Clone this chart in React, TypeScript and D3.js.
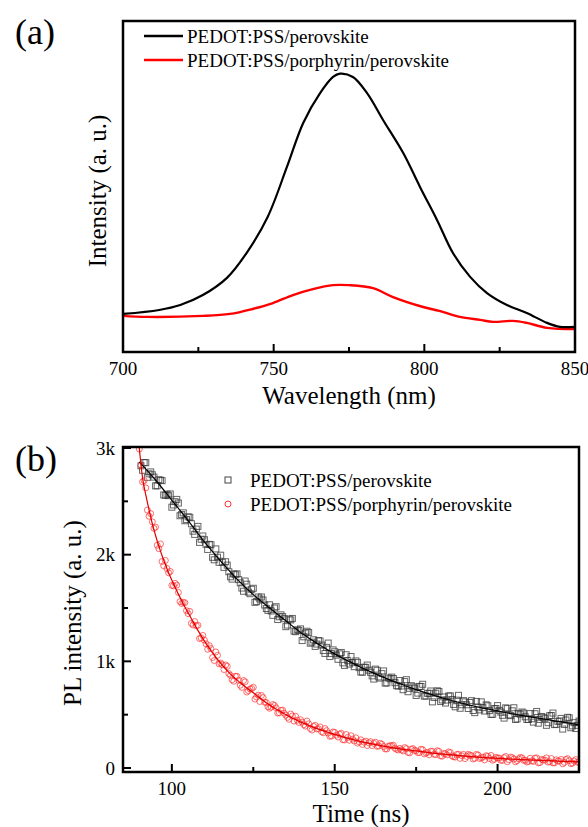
import React from "react";
import * as d3 from "d3";

// ---------- Panel (a): steady-state PL ----------
const wlBlack = [700, 712, 719, 726.5, 734.5, 741, 748, 754.4, 759.8, 765.4, 769.7, 772, 776.3, 781, 786.3, 793, 798.6, 804.2, 809.5, 815.2, 820.8, 827.4, 834, 840.7, 845, 850];
const intBlack = [115, 127, 142, 172, 224, 299, 408, 559, 692, 782, 831, 841, 831, 782, 701, 601, 498, 399, 299, 227, 178, 142, 118, 88, 76, 76];
const wlRed = [700, 708, 726.5, 735.5, 743, 749.8, 756.4, 763, 769.7, 775, 783, 789.6, 799.6, 805, 811.8, 818.5, 822.8, 829.4, 834, 840.7, 850];
const intRed = [109, 106, 109, 115, 130, 148, 172, 190, 202, 202, 193, 166, 136, 124, 106, 97, 91, 94, 88, 73, 69];
const topXTicks = [700, 750, 800, 850];
const topXMinor = [725, 775, 825];
const topLegend = ["PEDOT:PSS/perovskite", "PEDOT:PSS/porphyrin/perovskite"];

// ---------- Panel (b): TRPL decay ----------
// instrument time axis: integer ns and half-ns samples
const decayTimes = d3.range(90, 226, 1);
const decayTimesHalf = d3.range(90.5, 225, 1);
const decayBlack = [3050, 2791, 2862, 2758, 2749, 2645, 2702, 2694, 2556, 2553,
  2445, 2497, 2484, 2376, 2318, 2355, 2290, 2190, 2265, 2145,
  2140, 2049, 2093, 1952, 1976, 1995, 1881, 1902, 1793, 1819,
  1820, 1736, 1657, 1723, 1634, 1685, 1560, 1585, 1575, 1495,
  1530, 1431, 1512, 1418, 1419, 1325, 1396, 1402, 1278, 1289,
  1195, 1265, 1270, 1180, 1140, 1195, 1152, 1074, 1171, 1073,
  1090, 1019, 1083, 962, 1006, 1045, 950, 990, 900, 945,
  965, 897, 834, 916, 843, 910, 798, 836, 839, 772,
  820, 734, 828, 747, 761, 680, 765, 785, 675, 700,
  620, 701, 717, 638, 609, 675, 642, 574, 681, 593,
  620, 558, 631, 519, 572, 620, 534, 583, 502, 556,
  585, 524, 468, 557, 491, 565, 460, 505, 515, 455,
  510, 430, 530, 455, 475, 400, 490, 515, 410, 440,
  365, 450, 470, 395, 370, 440];
const decayBlackHalf = [2833, 2864, 2725, 2776, 2727, 2646, 2698, 2560, 2567, 2569,
  2466, 2518, 2365, 2392, 2329, 2350, 2220, 2240, 2115, 2175,
  2097, 2096, 1975, 2054, 1928, 1928, 1934, 1840, 1771, 1812,
  1766, 1687, 1753, 1649, 1675, 1553, 1603, 1603, 1528, 1478,
  1472, 1500, 1392, 1436, 1400, 1340, 1388, 1284, 1296, 1304,
  1230, 1282, 1170, 1202, 1162, 1191, 1101, 1131, 1045, 1107,
  1058, 1070, 986, 1062, 974, 987, 1004, 941, 898, 943,
  917, 864, 927, 854, 885, 796, 844, 852, 800, 768,
  769, 810, 715, 772, 749, 702, 764, 674, 700, 722,
  661, 724, 623, 666, 637, 676, 596, 636, 560, 632,
  593, 614, 539, 624, 545, 566, 592, 538, 504, 558,
  540, 494, 564, 498, 536, 455, 510, 525, 480, 455,
  462, 509, 420, 483, 466, 425, 492, 407, 438, 465,
  408, 475, 378, 425, 400];
const decayRed = [2990, 2684, 2626, 2360, 2308, 2258, 2056, 1936, 1946, 1830,
  1712, 1731, 1646, 1542, 1550, 1447, 1356, 1373, 1338, 1220,
  1198, 1113, 1120, 1008, 1056, 984, 923, 953, 868, 813,
  859, 776, 820, 712, 741, 757, 666, 623, 660, 613,
  560, 595, 564, 518, 543, 495, 457, 488, 485, 427,
  430, 393, 414, 356, 400, 368, 340, 370, 327, 300,
  335, 291, 325, 263, 287, 303, 253, 233, 264, 242,
  211, 247, 231, 203, 231, 201, 178, 209, 214, 175,
  184, 160, 182, 142, 182, 162, 144, 172, 142, 124,
  156, 125, 156, 111, 134, 151, 114, 102, 129, 115,
  88, 128, 115, 91, 122, 96, 76, 110, 118, 82,
  94, 72, 97, 59, 102, 84, 69, 99, 72, 56,
  91, 62, 95, 51, 76, 95, 60, 48, 77, 64,
  39, 80, 69, 46, 79, 54];
const decayRedHalf = [2836, 2694, 2418, 2385, 2247, 2088, 2101, 1896, 1870, 1843,
  1708, 1715, 1560, 1552, 1475, 1468, 1341, 1334, 1213, 1243,
  1164, 1147, 1036, 1088, 976, 968, 966, 885, 827, 860,
  822, 756, 808, 725, 745, 646, 683, 680, 617, 574,
  571, 586, 515, 540, 514, 475, 506, 440, 448, 453,
  406, 440, 370, 391, 366, 385, 330, 350, 297, 338,
  308, 317, 265, 314, 260, 270, 283, 245, 221, 252,
  236, 210, 242, 206, 222, 179, 204, 209, 184, 169,
  170, 192, 146, 176, 166, 144, 176, 132, 146, 158,
  129, 162, 113, 136, 123, 144, 105, 127, 90, 128,
  109, 121, 84, 128, 89, 101, 115, 89, 73, 101,
  93, 72, 108, 77, 97, 58, 86, 95, 73, 62,
  67, 92, 48, 81, 74, 55, 89, 48, 65, 80,
  53, 88, 41, 66, 55];
const fitTimes = [90, 95, 100, 105, 110, 115, 120, 125, 130, 135, 140, 145, 150, 155, 160, 165, 170, 175, 180, 185, 190, 195, 200, 205, 210, 215, 220, 225];
const fitBlack = [2870, 2700, 2510, 2320, 2120, 1940, 1770, 1625, 1500, 1380, 1260, 1160, 1070, 990, 915, 850, 790, 735, 685, 640, 600, 565, 535, 505, 480, 455, 430, 405];
const fitRedTimes = [90, 91, 92, 93, 94, 95, 96, 97, 98, 99, 100, 102, 104, 106, 108, 110, 112, 115, 118, 121, 125, 130, 135, 140, 145, 150, 155, 160, 165, 170, 175, 180, 185, 190, 195, 200, 205, 210, 215, 220, 225];
const fitRed = [3000, 2720, 2560, 2420, 2290, 2180, 2080, 1990, 1910, 1830, 1760, 1630, 1510, 1400, 1290, 1190, 1100, 980, 880, 800, 705, 590, 500, 425, 365, 315, 270, 235, 205, 180, 160, 140, 125, 112, 100, 90, 82, 75, 69, 63, 58];
const botXTicks = [100, 150, 200];
const botXMinor = [125, 175];
const botYTicks = [0, 1000, 2000, 3000];
const botYLabels = ["0", "1k", "2k", "3k"];
const botYMinor = [500, 1500, 2500];
const botLegend = ["PEDOT:PSS/perovskite", "PEDOT:PSS/porphyrin/perovskite"];

const FONT = "'Liberation Serif', 'Times New Roman', serif";

export default function App() {
  const A = { l: 123, r: 575, t: 21, b: 352 };
  const B = { l: 123, r: 579, t: 447, b: 772 };

  const xA = d3.scaleLinear().domain([700, 850]).range([A.l, A.r]);
  const yA = d3.scaleLinear().domain([0, 1000]).range([A.b, A.t]);
  const xB = d3.scaleLinear().domain([85, 225]).range([B.l, B.r]);
  const yB = d3.scaleLinear().domain([0, 3000]).range([768, 448]);

  const lineA = d3.line<[number, number]>().x(d => xA(d[0])).y(d => yA(d[1])).curve(d3.curveCatmullRom.alpha(0.5));
  const lineB = d3.line<[number, number]>().x(d => xB(d[0])).y(d => yB(d[1])).curve(d3.curveMonotoneX);

  const blackA = lineA(wlBlack.map((w, i) => [w, intBlack[i]]));
  const redA = lineA(wlRed.map((w, i) => [w, intRed[i]]));
  const fitB = lineB(fitTimes.map((t, i) => [t, fitBlack[i]]));
  const fitR = lineB(fitRedTimes.map((t, i) => [t, fitRed[i]]));

  const blackPts = [
    ...decayTimes.map((t, i) => [t, decayBlack[i]]),
    ...decayTimesHalf.map((t, i) => [t, decayBlackHalf[i]]),
  ];
  const redPts = [
    ...decayTimes.map((t, i) => [t, decayRed[i]]),
    ...decayTimesHalf.map((t, i) => [t, decayRedHalf[i]]),
  ];

  const sq = 6;
  return (
    <svg width={588} height={827} style={{ position: "absolute", left: 0, top: 0, background: "#fff", fontFamily: FONT }}>
      <defs>
        <clipPath id="clipA"><rect x={A.l} y={A.t} width={A.r - A.l} height={A.b - A.t} /></clipPath>
        <clipPath id="clipB"><rect x={B.l} y={B.t} width={B.r - B.l} height={B.b - B.t} /></clipPath>
      </defs>

      {/* ---------- Panel (a) ---------- */}
      <text x={15} y={44} fontSize={36}>(a)</text>
      <g clipPath="url(#clipA)">
        <path d={redA || ""} fill="none" stroke="#ff0000" strokeWidth={2.4} />
        <path d={blackA || ""} fill="none" stroke="#000" strokeWidth={2.2} />
      </g>
      <rect x={A.l} y={A.t} width={A.r - A.l} height={A.b - A.t} fill="none" stroke="#000" strokeWidth={2.5} />
      {topXTicks.map(t => (
        <g key={"ta" + t}>
          <line x1={xA(t)} x2={xA(t)} y1={A.b} y2={A.b - 8} stroke="#000" strokeWidth={2} />
          <text x={xA(t)} y={375} fontSize={19} textAnchor="middle">{t}</text>
        </g>
      ))}
      {topXMinor.map(t => (
        <line key={"tm" + t} x1={xA(t)} x2={xA(t)} y1={A.b} y2={A.b - 5} stroke="#000" strokeWidth={2} />
      ))}
      <text x={349} y={404} fontSize={25} textAnchor="middle">Wavelength (nm)</text>
      <text transform="translate(106,191) rotate(-90)" fontSize={25} textAnchor="middle">Intensity (a. u.)</text>
      {topLegend.map((s, i) => (
        <g key={"la" + i}>
          <line x1={144} x2={183} y1={36 + i * 24} y2={36 + i * 24} stroke={i === 0 ? "#000" : "#ff0000"} strokeWidth={2.5} />
          <text x={187} y={36 + i * 24} fontSize={19} dominantBaseline="central">{s}</text>
        </g>
      ))}

      {/* ---------- Panel (b) ---------- */}
      <text x={15} y={471} fontSize={36}>(b)</text>
      <g clipPath="url(#clipB)">
        {blackPts.map((p, i) => (
          <rect key={"sb" + i} x={xB(p[0]) - sq / 2} y={yB(p[1]) - sq / 2} width={sq} height={sq}
            fill="none" stroke="#333" strokeOpacity={0.75} strokeWidth={1} />
        ))}
        {redPts.map((p, i) => (
          <circle key={"sr" + i} cx={xB(p[0])} cy={yB(p[1])} r={3}
            fill="none" stroke="#ff3030" strokeOpacity={0.7} strokeWidth={1} />
        ))}
        <path d={fitB || ""} fill="none" stroke="#000" strokeWidth={1.2} />
        <path d={fitR || ""} fill="none" stroke="#e00000" strokeWidth={1.2} />
      </g>
      <rect x={B.l} y={B.t} width={B.r - B.l} height={B.b - B.t} fill="none" stroke="#000" strokeWidth={2.5} />
      {botXTicks.map(t => (
        <g key={"bx" + t}>
          <line x1={xB(t)} x2={xB(t)} y1={B.b} y2={B.b - 8} stroke="#000" strokeWidth={2} />
          <text x={xB(t)} y={795} fontSize={19} textAnchor="middle">{t}</text>
        </g>
      ))}
      {botXMinor.map(t => (
        <line key={"bxm" + t} x1={xB(t)} x2={xB(t)} y1={B.b} y2={B.b - 5} stroke="#000" strokeWidth={2} />
      ))}
      {botYTicks.map((v, i) => (
        <g key={"by" + v}>
          <line x1={B.l} x2={B.l + 8} y1={yB(v)} y2={yB(v)} stroke="#000" strokeWidth={2} />
          <text x={115} y={yB(v)} fontSize={19} textAnchor="end" dominantBaseline="central">{botYLabels[i]}</text>
        </g>
      ))}
      {botYMinor.map(v => (
        <line key={"bym" + v} x1={B.l} x2={B.l + 5} y1={yB(v)} y2={yB(v)} stroke="#000" strokeWidth={2} />
      ))}
      <text x={361} y={822} fontSize={25} textAnchor="middle">Time (ns)</text>
      <text transform="translate(81,613) rotate(-90)" fontSize={25} textAnchor="middle">PL intensity (a. u.)</text>
      {botLegend.map((s, i) => (
        <g key={"lb" + i}>
          {i === 0
            ? <rect x={228 - 3} y={480 - 3} width={6} height={6} fill="none" stroke="#444" strokeWidth={1} />
            : <circle cx={228} cy={480 + i * 24} r={3} fill="none" stroke="#ff3030" strokeWidth={1} />}
          <text x={250} y={480 + i * 24} fontSize={19} dominantBaseline="central">{s}</text>
        </g>
      ))}
    </svg>
  );
}
